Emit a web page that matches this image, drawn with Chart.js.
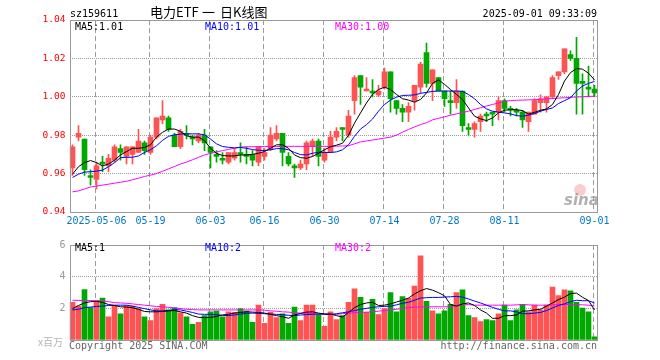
<!DOCTYPE html>
<html>
<head>
<meta charset="utf-8">
<script src="https://cdn.jsdelivr.net/npm/chart.js@4.4.1/dist/chart.umd.min.js"></script>
<style>
  html, body { margin: 0; padding: 0; background: #fff; }
  #wrap { position: relative; width: 660px; height: 360px; }
  canvas { position: absolute; left: 0; }
  #main { top: 0; }
  #vol { top: 235px; }
</style>
</head>
<body>
<div id="wrap">
  <canvas id="main" width="660" height="235"></canvas>
  <canvas id="vol" width="660" height="125"></canvas>
</div>
<script>
// trading days shown on the K-line chart (MM-DD)
const dates = ['04-25','04-28','04-29','04-30','05-06','05-07','05-08','05-09','05-12','05-13',
  '05-14','05-15','05-16','05-19','05-20','05-21','05-22','05-23','05-26','05-27',
  '05-28','05-29','05-30','06-03','06-04','06-05','06-06','06-09','06-10','06-11',
  '06-12','06-13','06-16','06-17','06-18','06-19','06-20','06-23','06-24','06-25',
  '06-26','06-27','06-30','07-01','07-02','07-03','07-04','07-07','07-08','07-09',
  '07-10','07-11','07-14','07-15','07-16','07-17','07-18','07-21','07-22','07-23',
  '07-24','07-25','07-28','07-29','07-30','07-31','08-01','08-04','08-05','08-06',
  '08-07','08-08','08-11','08-12','08-13','08-14','08-15','08-18','08-19','08-20',
  '08-21','08-22','08-25','08-26','08-27','08-28','08-29','09-01'];

const tickLabels = ['2025-05-06','05-19','06-03','06-16','06-30','07-14','07-28','08-11','09-01'];

const openP = [0.963,0.979,0.978,0.959,0.957,0.966,0.964,0.967,0.973,0.969,
  0.970,0.971,0.976,0.971,0.979,0.988,0.989,0.980,0.974,0.981,
  0.979,0.977,0.980,0.974,0.970,0.968,0.966,0.968,0.971,0.970,
  0.970,0.966,0.969,0.973,0.978,0.981,0.969,0.964,0.963,0.965,
  0.974,0.977,0.967,0.971,0.979,0.984,0.980,0.998,1.011,1.003,
  1.003,1.001,1.005,1.013,0.998,0.994,0.992,0.998,1.005,1.023,
  1.007,1.010,1.003,0.998,0.997,1.003,0.984,0.983,0.987,0.991,
  0.992,0.992,0.998,0.994,0.993,0.992,0.987,0.991,0.997,0.997,
  1.000,1.011,1.013,1.022,1.020,1.008,1.005,1.004];

const highP = [0.975,0.985,0.978,0.962,0.966,0.969,0.970,0.975,0.975,0.974,
  0.974,0.983,0.977,0.980,0.989,0.998,0.990,0.981,0.983,0.985,
  0.980,0.981,0.983,0.974,0.972,0.971,0.971,0.973,0.976,0.974,
  0.972,0.974,0.973,0.984,0.985,0.981,0.971,0.965,0.967,0.977,
  0.978,0.978,0.973,0.982,0.984,0.984,0.993,1.011,1.011,1.010,
  1.009,1.006,1.015,1.013,0.998,0.996,0.997,1.006,1.018,1.028,
  1.014,1.010,1.003,1.003,1.009,1.003,0.986,0.987,0.991,0.992,
  0.992,1.000,0.999,0.995,0.994,0.993,0.992,0.999,1.001,1.000,
  1.011,1.013,1.025,1.024,1.031,1.012,1.016,1.006];

const lowP = [0.959,0.977,0.959,0.954,0.952,0.961,0.961,0.966,0.967,0.965,
  0.965,0.971,0.970,0.970,0.978,0.986,0.982,0.974,0.973,0.978,
  0.975,0.976,0.972,0.963,0.966,0.965,0.965,0.967,0.966,0.965,
  0.964,0.964,0.967,0.972,0.977,0.964,0.964,0.958,0.962,0.962,
  0.969,0.964,0.966,0.971,0.977,0.977,0.979,0.991,0.996,1.003,
  1.000,1.000,1.004,0.992,0.991,0.987,0.987,0.993,1.002,1.005,
  0.998,1.003,0.995,0.991,0.994,0.982,0.980,0.979,0.982,0.987,
  0.985,0.988,0.992,0.990,0.990,0.984,0.982,0.991,0.992,0.992,
  0.999,1.009,1.012,1.019,0.991,0.991,1.000,1.000];

const closeP = [0.974,0.981,0.962,0.958,0.964,0.965,0.968,0.974,0.971,0.974,
  0.974,0.977,0.972,0.979,0.989,0.990,0.983,0.974,0.982,0.980,
  0.978,0.980,0.976,0.971,0.969,0.967,0.971,0.971,0.970,0.969,
  0.967,0.974,0.971,0.980,0.981,0.971,0.965,0.963,0.965,0.976,
  0.977,0.969,0.971,0.979,0.982,0.983,0.990,1.010,1.005,1.004,
  1.002,1.003,1.013,0.999,0.994,0.992,0.995,1.006,1.017,1.007,
  1.014,1.003,0.999,0.997,1.003,0.985,0.983,0.986,0.990,0.990,
  0.991,0.998,0.994,0.993,0.992,0.988,0.992,0.998,0.999,1.000,
  1.010,1.013,1.025,1.020,1.007,1.007,1.004,1.002];

// price moving averages as drawn on the chart
const ma5 = [0.9597,0.9636,0.9657,0.9668,0.9657,0.964,0.965,0.967,0.9697,0.9715,
  0.9732,0.9732,0.9736,0.975,0.979,0.9815,0.9832,0.9832,0.982,0.9797,
  0.979,0.979,0.9772,0.9732,0.9706,0.9694,0.9692,0.9692,0.9697,0.9697,
  0.970,0.9706,0.9715,0.9732,0.975,0.975,0.9732,0.9697,0.9683,0.968,
  0.9689,0.9706,0.9724,0.974,0.9748,0.9758,0.980,0.9863,0.9916,0.9968,
  1.0012,1.0038,1.005,1.0038,1.0012,0.999,0.9983,0.9972,0.9986,1.002,
  1.007,1.0088,1.0065,1.0038,1.0012,0.9986,0.9942,0.9899,0.9885,0.9876,
  0.989,0.9916,0.993,0.9933,0.9933,0.9928,0.991,0.9919,0.993,0.9937,
  0.996,1.0012,1.0082,1.0126,1.0147,1.0144,1.0123,1.0088];

const ma10 = [0.958,0.9597,0.9608,0.961,0.9613,0.9618,0.9636,0.9657,0.9683,0.9685,
  0.9685,0.9692,0.971,0.9724,0.9745,0.9773,0.9794,0.9802,0.9806,0.9807,
  0.9807,0.9807,0.9802,0.978,0.9755,0.9741,0.9737,0.9734,0.9736,0.9732,
  0.9725,0.9722,0.972,0.9724,0.973,0.973,0.9724,0.971,0.9699,0.9697,
  0.9706,0.9711,0.971,0.971,0.9713,0.9724,0.975,0.9794,0.9832,0.9855,
  0.9884,0.9925,0.996,0.9983,0.9998,1.0007,1.0008,1.001,1.0018,1.0023,
  1.0028,1.003,1.003,1.003,1.003,1.0028,1.0012,0.999,0.996,0.9937,
  0.9925,0.992,0.9916,0.9911,0.9902,0.9899,0.9904,0.9913,0.9925,0.9934,
  0.9942,0.9965,0.998,0.9995,1.003,1.0056,1.007,1.008];

const ma30 = [0.9505,0.951,0.952,0.953,0.9535,0.954,0.9545,0.955,0.9555,0.956,
  0.9568,0.9576,0.9585,0.9592,0.960,0.9612,0.9625,0.9637,0.965,0.966,
  0.9672,0.9685,0.9697,0.9705,0.9712,0.972,0.9726,0.9732,0.9738,0.974,
  0.974,0.974,0.9741,0.9741,0.9741,0.9742,0.9742,0.9742,0.9742,0.9742,
  0.9742,0.9742,0.9742,0.9742,0.9743,0.9744,0.9745,0.9755,0.9765,0.977,
  0.9775,0.978,0.9785,0.979,0.980,0.9816,0.983,0.9843,0.9855,0.9865,
  0.988,0.9888,0.9896,0.9904,0.9911,0.9918,0.9925,0.9934,0.9943,0.9952,
  0.996,0.9968,0.9977,0.998,0.9982,0.9983,0.9984,0.9985,0.9987,0.9989,
  0.9991,0.9993,0.9995,0.9997,0.9999,1.0,1.0002,1.0003];

// volume, millions
const vol = [2.38,2.14,3.19,2.04,2.48,2.65,1.47,2.18,1.66,2.18,
  2.14,1.98,1.47,1.23,1.98,2.26,1.90,2.04,1.72,1.47,
  0.99,1.11,1.54,1.78,1.82,1.47,1.78,1.74,1.98,1.82,
  1.11,2.20,1.05,1.74,1.41,1.66,1.05,2.08,1.23,2.20,
  2.20,1.60,0.87,1.78,1.29,1.54,2.38,3.23,2.69,1.74,
  2.57,1.60,1.98,2.99,1.78,2.75,2.63,3.41,5.31,2.44,
  1.84,1.66,1.84,2.26,2.99,3.17,1.54,1.41,1.17,1.29,
  1.23,1.66,2.20,1.23,1.90,2.26,1.78,2.20,1.90,2.20,
  3.35,2.81,3.17,3.11,2.38,2.02,1.78,0.20];

const volMa5 = [1.98,2.18,2.34,2.42,2.44,2.38,2.24,2.18,2.10,2.08,
  2.04,1.94,1.80,1.78,1.78,1.80,1.84,1.86,1.78,1.70,
  1.54,1.43,1.41,1.43,1.49,1.58,1.62,1.70,1.74,1.78,
  1.76,1.74,1.70,1.62,1.54,1.47,1.37,1.58,1.68,1.76,
  1.78,1.70,1.64,1.64,1.54,1.45,1.74,2.04,2.24,2.34,
  2.38,2.18,2.20,2.28,2.40,2.51,2.65,2.91,3.11,3.25,
  3.15,2.99,2.79,2.24,2.14,2.28,2.34,2.18,1.90,1.70,
  1.37,1.37,1.54,1.54,1.58,1.82,1.84,1.90,1.94,2.14,
  2.34,2.55,2.71,2.93,2.96,2.70,2.49,1.90];

const volMa10 = [1.90,1.94,2.04,2.08,2.12,2.14,2.18,2.20,2.20,2.20,
  2.14,2.06,1.98,1.90,1.84,1.84,1.86,1.92,1.90,1.82,
  1.74,1.64,1.62,1.62,1.60,1.56,1.54,1.58,1.64,1.68,
  1.70,1.68,1.66,1.64,1.62,1.60,1.56,1.54,1.58,1.60,
  1.62,1.64,1.64,1.62,1.66,1.72,1.78,1.86,1.94,2.00,
  2.06,2.10,2.12,2.14,2.22,2.32,2.38,2.51,2.65,2.67,
  2.69,2.69,2.71,2.73,2.75,2.71,2.59,2.46,2.34,2.20,
  2.06,1.94,1.84,1.84,1.78,1.66,1.66,1.70,1.74,1.86,
  2.02,2.18,2.28,2.42,2.51,2.48,2.48,2.34];

const volMa30 = [2.51,2.50,2.49,2.49,2.48,2.48,2.42,2.36,2.34,2.32,
  2.28,2.24,2.20,2.16,2.12,2.10,2.06,2.02,1.98,1.94,
  1.92,1.90,1.90,1.90,1.90,1.90,1.90,1.90,1.90,1.90,
  1.90,1.90,1.88,1.84,1.82,1.78,1.76,1.72,1.70,1.68,
  1.66,1.64,1.62,1.60,1.62,1.66,1.70,1.72,1.74,1.76,
  1.78,1.82,1.86,1.90,1.94,2.00,2.04,2.08,2.08,2.10,
  2.10,2.10,2.10,2.10,2.18,2.22,2.24,2.20,2.20,2.20,
  2.20,2.20,2.20,2.20,2.22,2.24,2.22,2.20,2.20,2.20,
  2.22,2.24,2.24,2.24,2.24,2.22,2.20,2.14];

const MONO = '"DejaVu Sans Mono"';
const CJK = '"Noto Sans CJK SC"';
const RED = '#ff5252';
const GREEN = '#00a800';
const GRID = '#9c9c9c';

Chart.defaults.font.family = MONO;

const barColors = closeP.map((c, i) => c >= openP[i] ? RED : GREEN);
const bodies = openP.map((o, i) => [o, closeP[i]]);
const wicks = lowP.map((l, i) => [l, highP[i]]);

function tickFor(i) {
  return tickLabels.find(t => t.endsWith(dates[i])) || '';
}

function xScale(showLabels) {
  return {
    offset: true,
    grid: { display: false, drawTicks: false },
    border: { display: false },
    ticks: {
      display: showLabels,
      autoSkip: false,
      maxRotation: 0,
      minRotation: 0,
      padding: 3,
      color: '#0078c8',
      font: { family: MONO, size: 10 },
      callback: (v, i) => tickFor(i)
    },
    afterFit: s => { s.height = showLabels ? 23 : 20; }
  };
}

function maLine(data, color) {
  return { type: 'line', data, borderColor: color, borderWidth: 1, pointRadius: 0, tension: 0, fill: false };
}

// dashed date lines, placed with the x scale
const dateLines = {
  id: 'dateLines',
  beforeDatasetsDraw(chart) {
    const { ctx, chartArea: a, scales } = chart;
    ctx.save();
    ctx.strokeStyle = GRID;
    ctx.lineWidth = 1;
    ctx.setLineDash([5, 3]);
    dates.forEach((d, i) => {
      if (!tickFor(i)) return;
      const x = Math.floor(scales.x.getPixelForValue(i) - 1.5) + 0.5;
      ctx.beginPath();
      ctx.moveTo(x, a.top);
      ctx.lineTo(x, a.bottom);
      ctx.stroke();
    });
    ctx.restore();
  }
};

function drawFrame(chart) {
  const { ctx, chartArea: a } = chart;
  ctx.save();
  ctx.strokeStyle = '#999';
  ctx.lineWidth = 1;
  ctx.strokeRect(Math.round(a.left) + 0.5, Math.round(a.top) + 0.5,
    Math.round(a.right - a.left) - 1, Math.round(a.bottom - a.top));
  ctx.restore();
}

const mainText = {
  id: 'mainText',
  afterDraw(chart) {
    drawFrame(chart);
    const ctx = chart.ctx;
    ctx.save();
    ctx.textBaseline = 'alphabetic';
    ctx.fillStyle = '#000';
    ctx.font = '10px ' + MONO;
    ctx.fillText('sz159611', 70, 17);
    ctx.font = '13px ' + CJK;
    ctx.fillText('电力ETF', 150, 17);
    ctx.fillText('一', 202, 17);
    ctx.fillText('日K线图', 220, 17);
    ctx.font = '10px ' + MONO;
    ctx.textAlign = 'right';
    ctx.fillText('2025-09-01 09:33:09', 597, 17);
    ctx.textAlign = 'left';
    ctx.fillText('MA5:' + ma5[ma5.length - 1].toFixed(2), 75, 30);
    ctx.fillStyle = '#0000ff';
    ctx.fillText('MA10:' + ma10[ma10.length - 1].toFixed(2), 205, 30);
    ctx.fillStyle = '#ff00ff';
    ctx.fillText('MA30:' + ma30[ma30.length - 1].toFixed(2), 335, 30);
    // sina watermark
    ctx.fillStyle = 'rgba(240,130,130,0.4)';
    ctx.beginPath();
    ctx.arc(580, 190, 6, 0, Math.PI * 2);
    ctx.fill();
    ctx.font = 'italic bold 15px "DejaVu Sans"';
    ctx.fillStyle = 'rgba(150,150,150,0.75)';
    ctx.fillText('sina', 564, 205);
    ctx.restore();
  }
};

const volText = {
  id: 'volText',
  afterDraw(chart) {
    drawFrame(chart);
    const ctx = chart.ctx;
    ctx.save();
    ctx.textBaseline = 'alphabetic';
    ctx.font = '10px ' + MONO;
    ctx.fillStyle = '#000';
    ctx.fillText('MA5:' + Math.floor(volMa5[volMa5.length - 1]), 75, 16);
    ctx.fillStyle = '#0000ff';
    ctx.fillText('MA10:' + Math.floor(volMa10[volMa10.length - 1]), 205, 16);
    ctx.fillStyle = '#ff00ff';
    ctx.fillText('MA30:' + Math.floor(volMa30[volMa30.length - 1]), 335, 16);
    ctx.fillStyle = '#666';
    ctx.fillText('Copyright 2025 SINA.COM', 69, 114);
    ctx.textAlign = 'right';
    ctx.fillText('http://finance.sina.com.cn', 597, 114);
    ctx.textAlign = 'left';
    ctx.fillStyle = '#b4b4b4';
    ctx.font = '10px ' + CJK;
    ctx.fillText('x百万', 38, 111);
    ctx.restore();
  }
};

// K-line panel
new Chart(document.getElementById('main'), {
  type: 'bar',
  data: {
    labels: dates,
    datasets: [
      maLine(ma5, '#000000'),
      maLine(ma10, '#0000ff'),
      maLine(ma30, '#ff00ff'),
      { data: bodies, backgroundColor: barColors, barThickness: 5, minBarLength: 1, grouped: false },
      { data: wicks, backgroundColor: barColors, barThickness: 1, minBarLength: 1, grouped: false }
    ]
  },
  options: {
    responsive: false,
    animation: false,
    events: [],
    layout: { padding: { left: 0, right: 62.5, top: 20, bottom: 0 } },
    plugins: { legend: { display: false }, tooltip: { enabled: false } },
    scales: {
      x: xScale(true),
      y: {
        min: 0.94,
        max: 1.04,
        ticks: {
          stepSize: 0.02,
          padding: 4,
          color: '#ff0000',
          font: { family: MONO, size: 9.5 },
          callback: v => Number(v).toFixed(2)
        },
        grid: { drawTicks: false, lineWidth: 1, color: GRID },
        border: { display: false, dash: [1, 1] },
        afterFit: s => { s.width = 69.5; }
      }
    }
  },
  plugins: [dateLines, mainText]
});

// volume panel
new Chart(document.getElementById('vol'), {
  type: 'bar',
  data: {
    labels: dates,
    datasets: [
      maLine(volMa5, '#000000'),
      maLine(volMa10, '#0000ff'),
      maLine(volMa30, '#ff00ff'),
      { data: vol, backgroundColor: barColors, barThickness: 5 }
    ]
  },
  options: {
    responsive: false,
    animation: false,
    events: [],
    layout: { padding: { left: 0, right: 62.5, top: 5, bottom: 0 } },
    plugins: { legend: { display: false }, tooltip: { enabled: false } },
    scales: {
      x: xScale(false),
      y: {
        min: 0,
        max: 6,
        ticks: {
          stepSize: 2,
          padding: 4,
          color: '#999999',
          font: { family: MONO, size: 10 },
          callback: v => v === 0 ? '' : String(v)
        },
        grid: { drawTicks: false, lineWidth: 1, color: GRID },
        border: { display: false, dash: [1, 1] },
        afterFit: s => { s.width = 69.5; }
      }
    }
  },
  plugins: [dateLines, volText]
});
</script>
</body>
</html>
